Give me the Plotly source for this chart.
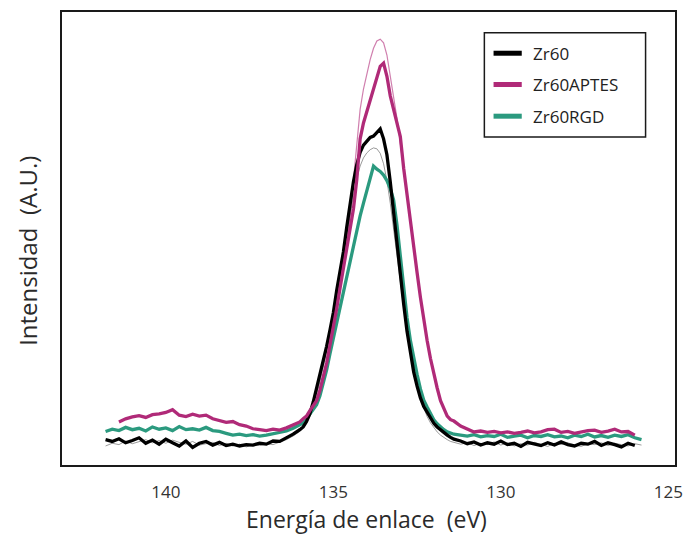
import plotly.graph_objects as go

# Binding-energy sampling points (eV): coarse on the baselines, finer across the Zr 3d peak
energy_left = [141.8, 141.6, 141.4, 141.2, 141.0, 140.8, 140.6, 140.4, 140.2, 140.0,
               139.8, 139.6, 139.4, 139.2, 139.0, 138.8, 138.6, 138.4, 138.2, 138.0,
               137.8, 137.6, 137.4, 137.2, 137.0, 136.8, 136.6, 136.4, 136.2, 136.0]
energy_peak = [135.9, 135.8, 135.7, 135.6, 135.5, 135.4, 135.3, 135.2, 135.1, 135.0,
               134.9, 134.8, 134.7, 134.6, 134.5, 134.4, 134.3, 134.2, 134.1, 134.0,
               133.9, 133.8, 133.7, 133.6, 133.5, 133.4, 133.3, 133.2, 133.1, 133.0,
               132.9, 132.8, 132.7, 132.6, 132.5, 132.4, 132.3, 132.2, 132.1, 132.0,
               131.9, 131.8, 131.7, 131.6, 131.5]
energy_right = [131.4, 131.2, 131.0, 130.8, 130.6, 130.4, 130.2, 130.0, 129.8, 129.6,
                129.4, 129.2, 129.0, 128.8, 128.6, 128.4, 128.2, 128.0, 127.8, 127.6,
                127.4, 127.2, 127.0, 126.8, 126.6, 126.4, 126.2, 126.0, 125.8]

# Zr60
zr60_left = [5.6, 5.2, 5.8, 4.9, 5.4, 6.0, 4.8, 5.5, 4.6, 5.7,
             4.9, 4.2, 5.3, 3.9, 4.8, 5.2, 4.4, 5.0, 4.3, 4.6,
             4.2, 4.5, 4.4, 4.8, 4.6, 5.3, 5.2, 5.9, 6.8, 7.8]
zr60_peak = [8.4, 9.6, 11.3, 13.9, 16.8, 19.8, 22.9, 26.2, 29.8, 33.6,
             38.5, 42.5, 47.0, 52.5, 58.0, 62.5, 66.3, 69.0, 70.6, 71.6,
             72.3, 72.6, 73.4, 74.2, 72.0, 68.5, 62.5, 55.5, 48.5, 42.0,
             35.5, 29.5, 24.5, 20.5, 17.4, 14.8, 12.9, 11.6, 10.3, 9.2,
             8.4, 7.8, 7.0, 6.6, 6.1]
zr60_right = [5.7, 5.3, 4.7, 5.1, 4.4, 4.9, 4.6, 5.3, 4.5, 4.8,
              4.1, 5.0, 4.6, 4.3, 4.9, 4.4, 5.1, 4.5, 4.2, 4.8,
              4.6, 5.2, 4.3, 4.9, 4.5, 4.0, 4.8, 4.3, None]

# Zr60APTES
aptes_left = [None, None, 9.5, 10.2, 10.6, 10.9, 10.5, 11.1, 11.3, 11.6,
              12.2, 11.0, 10.7, 11.2, 10.8, 11.0, 10.2, 9.8, 9.4, 9.6,
              8.9, 8.6, 8.0, 7.8, 7.6, 7.9, 7.7, 8.2, 8.9, 9.5]
aptes_peak = [10.2, 10.8, 12.0, 13.0, 14.2, 16.5, 19.4, 22.5, 26.5, 30.3,
              34.5, 39.0, 43.5, 48.0, 52.5, 56.5, 63.0, 72.0, 75.5, 78.0,
              80.5, 83.0, 85.8, 88.0, 88.7, 85.8, 81.5, 78.5, 76.0, 72.5,
              65.5, 59.5, 54.0, 48.0, 42.5, 37.0, 32.0, 27.5, 23.5, 20.0,
              17.0, 14.2, 12.5, 10.8, 10.0]
aptes_right = [9.7, 8.6, 7.9, 7.3, 7.5, 7.2, 7.4, 7.1, 7.3, 7.0,
               7.2, 7.5, 7.1, 7.3, 7.8, 7.9, 7.2, 7.4, 7.0, 7.3,
               7.6, 7.7, 7.2, 7.5, 7.9, 7.3, 7.4, 6.6, None]

# Zr60RGD
rgd_left = [7.4, 7.9, 7.6, 8.3, 7.8, 8.1, 7.5, 8.4, 7.9, 8.2,
            7.6, 8.5, 7.8, 8.0, 7.7, 8.3, 7.6, 7.4, 7.0, 6.6,
            6.8, 6.5, 6.7, 6.4, 6.6, 6.9, 7.1, 7.5, 8.1, 9.0]
rgd_peak = [9.3, 10.2, 11.2, 12.3, 13.3, 15.3, 18.0, 21.0, 24.6, 28.0,
            31.5, 35.0, 38.6, 41.8, 45.0, 48.5, 52.0, 55.0, 57.8, 60.5,
            63.5, 66.0, 65.3, 64.8, 64.0, 62.8, 61.0, 58.5, 53.0, 46.0,
            39.0, 32.5, 27.5, 23.5, 20.0, 16.8, 14.3, 12.8, 11.3, 10.0,
            9.1, 8.4, 7.8, 7.3, 7.0]
rgd_right = [6.8, 6.6, 6.4, 6.7, 6.2, 6.5, 6.3, 6.8, 6.1, 6.4,
             6.6, 6.0, 6.5, 6.3, 6.7, 6.2, 6.4, 6.0, 6.6, 6.3,
             6.8, 6.2, 6.5, 6.1, 6.6, 6.3, 6.7, 6.0, 5.6]

# Thin reference curve under the Zr60 spectrum
ref_left = [4.2, 4.8, 4.5, 5.3, 4.7, 5.1, 5.6, 4.9, 5.4, 4.8,
            5.5, 5.0, 4.6, 5.2, 4.4, 4.7, 5.0, 4.3, 4.8, 4.2,
            4.6, 4.0, 4.4, 4.3, 4.7, 4.5, 5.0, 5.6, 6.4, 7.4]
ref_peak = [8.2, 9.2, 10.8, 12.9, 15.5, 18.4, 21.5, 24.8, 28.3, 32.0,
            36.2, 40.5, 45.0, 50.0, 55.0, 59.5, 63.2, 66.0, 67.8, 68.9,
            69.6, 70.0, 69.8, 68.8, 66.5, 62.8, 57.8, 52.0, 46.0, 40.0,
            34.2, 29.0, 24.5, 20.6, 17.3, 14.6, 12.4, 10.7, 9.3, 8.2,
            7.3, 6.6, 6.0, 5.6, 5.2]
ref_right = [5.0, 4.6, 4.9, 4.3, 4.8, 4.5, 5.1, 4.4, 4.9, 4.2,
             4.7, 4.4, 5.0, 4.6, 4.1, 4.8, 4.5, 4.9, 4.4, 4.1,
             4.7, 4.5, 4.9, 4.3, 4.8, 4.5, 4.2, 4.7, 4.4]

# Thin reference curve over the top of the Zr60APTES peak
aptes_ref_energy = [134.8, 134.7, 134.6, 134.5, 134.4, 134.3, 134.2, 134.1, 134.0, 133.9,
                    133.8, 133.7, 133.6, 133.5, 133.4, 133.3, 133.2, 133.1, 133.0, 132.9,
                    132.8, 132.7, 132.6, 132.5]
aptes_ref = [39.5, 44.0, 49.0, 55.0, 63.0, 72.0, 78.5, 83.0, 86.5, 89.5,
             92.0, 93.6, 94.0, 93.2, 90.5, 86.0, 81.5, 76.5, 71.0, 65.0,
             59.0, 53.5, 47.5, 42.0]

series_names = ["Zr60", "Zr60APTES", "Zr60RGD"]
series_colors = ["#000000", "#b02a78", "#2b9a7f"]
x_ticks = [140, 135, 130, 125]

energy = energy_left + energy_peak + energy_right
series_values = [
    zr60_left + zr60_peak + zr60_right,
    aptes_left + aptes_peak + aptes_right,
    rgd_left + rgd_peak + rgd_right,
]

fig = go.Figure()

# thin reference curves, drawn first so the spectra sit on top
fig.add_trace(go.Scatter(x=energy, y=ref_left + ref_peak + ref_right, mode="lines",
                         line=dict(color="rgba(120,120,120,0.75)", width=1),
                         showlegend=False, hoverinfo="skip"))
fig.add_trace(go.Scatter(x=aptes_ref_energy, y=aptes_ref, mode="lines",
                         line=dict(color="rgba(176,42,120,0.6)", width=1.2),
                         showlegend=False, hoverinfo="skip"))

# spectra: green first, then black, then magenta on top
for idx in [2, 0, 1]:
    fig.add_trace(go.Scatter(x=energy, y=series_values[idx], mode="lines",
                             name=series_names[idx],
                             line=dict(color=series_colors[idx], width=3.3),
                             showlegend=False))

# boxed key in the upper right corner of the plot area
shapes = [dict(type="rect", xref="paper", yref="paper",
               x0=0.689, x1=0.952, y0=0.724, y1=0.954,
               line=dict(color="#1a1a1a", width=1.5), fillcolor="white", layer="above")]
annotations = []
key_rows = [0.909, 0.840, 0.770]
for name, color, ky in zip(series_names, series_colors, key_rows):
    shapes.append(dict(type="line", xref="paper", yref="paper",
                       x0=0.704, x1=0.750, y0=ky, y1=ky,
                       line=dict(color=color, width=5), layer="above"))
    annotations.append(dict(text=name, xref="paper", yref="paper", x=0.765, y=ky,
                            xanchor="left", yanchor="middle", showarrow=False,
                            font=dict(size=17, color="#222222")))

# axis titles
annotations.append(dict(text="Energía de enlace  (eV)", xref="paper", yref="paper",
                        x=0.496, y=-0.119, xanchor="center", yanchor="middle",
                        showarrow=False, font=dict(size=23, color="#2a2a2a")))
annotations.append(dict(text="Intensidad  (A.U.)", xref="paper", yref="paper",
                        x=-0.056, y=0.472, xanchor="center", yanchor="middle",
                        textangle=-90, showarrow=False,
                        font=dict(size=24, color="#2a2a2a")))

axis_line = dict(showline=True, linecolor="#1a1a1a", linewidth=1.6, mirror=True,
                 showgrid=False, zeroline=False)

fig.update_layout(
    width=692, height=537,
    margin=dict(l=62, r=9, t=12, b=72),
    paper_bgcolor="white", plot_bgcolor="white",
    font=dict(family="Open Sans", color="#2a2a2a"),
    showlegend=False,
    xaxis=dict(range=[143.1, 124.8], tickvals=x_ticks, ticks="",
               tickfont=dict(size=17, color="#333333"), ticklabelstandoff=11,
               **axis_line),
    yaxis=dict(range=[0, 100], showticklabels=False, ticks="", **axis_line),
    shapes=shapes,
    annotations=annotations,
)

fig.write_html("out.html")
